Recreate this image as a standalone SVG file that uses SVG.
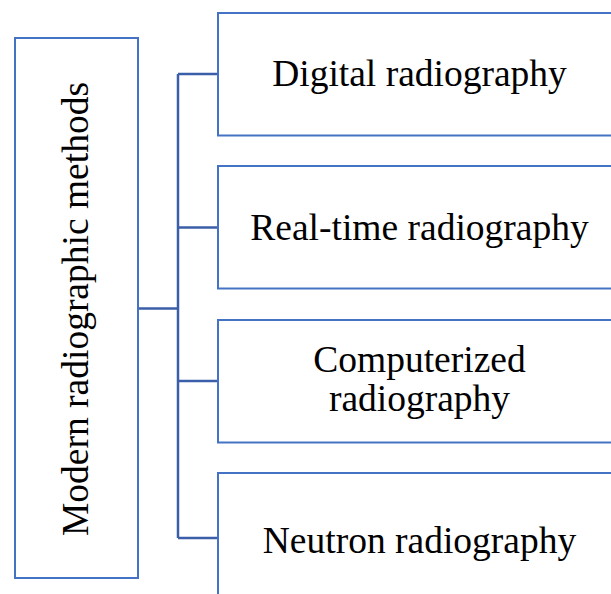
<svg xmlns="http://www.w3.org/2000/svg" width="611" height="594" viewBox="0 0 611 594">
<style>
.box{fill:#fff;stroke:#4472C4;stroke-width:2}
.con{fill:none;stroke:#3A5FA8;stroke-width:2.5}
text{font-family:"Liberation Serif","Times New Roman",serif;font-size:37.5px;fill:#000;text-anchor:middle}
</style>
<rect width="611" height="594" fill="#fff"/>
<g id="connectors">
<path class="con" d="M138 308.5H178M178 74V538M178 74H218M178 227.5H218M178 381H218M178 538H218"/>
</g>
<g id="root">
<rect class="box" x="15" y="38" width="123" height="540"/>
<text transform="translate(88,309) rotate(-90)">Modern radiographic methods</text>
</g>
<g id="n1">
<rect class="box" x="218" y="13" width="410" height="122.5"/>
<text x="419.5" y="86">Digital radiography</text>
</g>
<g id="n2">
<rect class="box" x="218" y="166" width="410" height="122.5"/>
<text x="419.5" y="240">Real-time radiography</text>
</g>
<g id="n3">
<rect class="box" x="218" y="320" width="410" height="122.5"/>
<text x="419.5" y="372">Computerized</text>
<text x="419.5" y="411">radiography</text>
</g>
<g id="n4">
<rect class="box" x="218" y="473" width="410" height="140"/>
<text x="419.5" y="553">Neutron radiography</text>
</g>
</svg>
